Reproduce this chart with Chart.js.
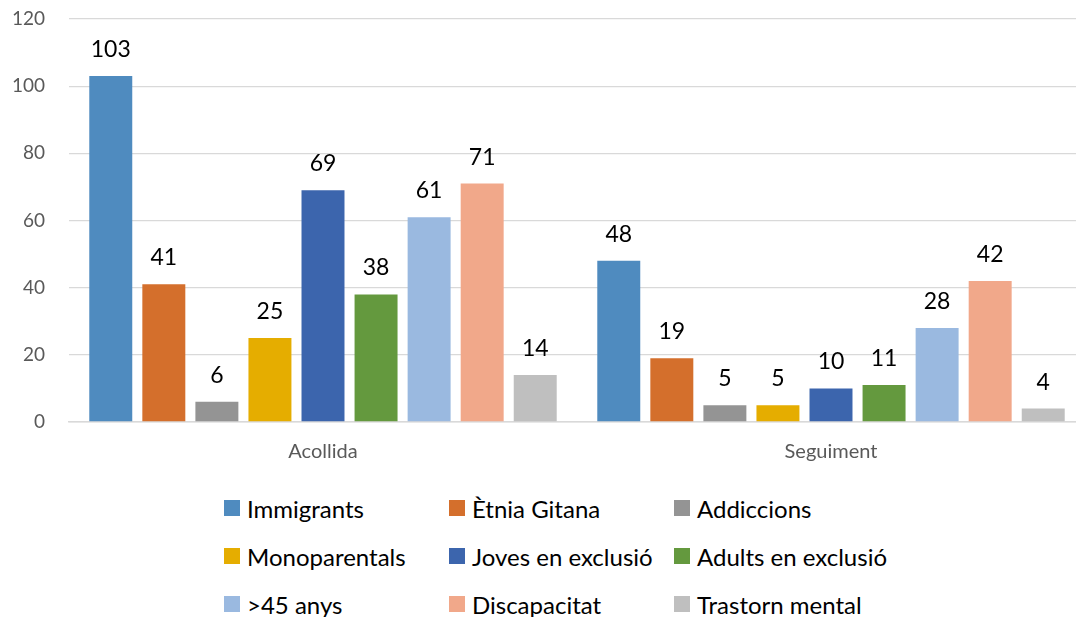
<!DOCTYPE html>
<html><head><meta charset="utf-8">
<script src="https://cdn.jsdelivr.net/npm/chart.js@4"></script>
<style>
html,body{margin:0;padding:0;background:#fff;overflow:hidden;width:1076px;height:617px}
#wrap{position:relative;width:1076px;height:617px;overflow:hidden;background:#fff}
canvas{position:absolute;left:0;top:0}
.li{position:absolute;height:48px;display:flex;align-items:center;font-family:Lato,"Open Sans",sans-serif;font-size:24px;color:#000;white-space:nowrap}
.sw{width:16px;height:16px;margin-right:7px;flex:0 0 auto}
</style></head>
<body><div id="wrap"><canvas id="c" width="1086" height="480"></canvas><div id="legend"></div></div>
<script>
const categories = ['Acollida', 'Seguiment'];
const seriesNames = ['Immigrants', 'Ètnia Gitana', 'Addiccions', 'Monoparentals', 'Joves en exclusió', 'Adults en exclusió', '>45 anys', 'Discapacitat', 'Trastorn mental'];
const seriesColors = ['#4f8bbf', '#d46f2c', '#949494', '#e5ad00', '#3c65ad', '#64993e', '#9ab9e0', '#f1a88a', '#bfbfbf'];
const acollidaValues = [103, 41, 6, 25, 69, 38, 61, 71, 14];
const seguimentValues = [48, 19, 5, 5, 10, 11, 28, 42, 4];
const yTicks = [0, 20, 40, 60, 80, 100, 120];

const datasets = seriesNames.map((name, i) => ({
  label: name,
  data: [acollidaValues[i], seguimentValues[i]],
  backgroundColor: seriesColors[i],
  borderWidth: 0,
  categoryPercentage: 0.94,
  barPercentage: 0.81
}));

const valueLabels = {
  id: 'valueLabels',
  afterDatasetsDraw(chart) {
    const ctx = chart.ctx;
    ctx.save();
    ctx.font = '23px Lato, "Open Sans", sans-serif';
    ctx.fillStyle = '#000';
    ctx.textAlign = 'center';
    ctx.textBaseline = 'alphabetic';
    chart.data.datasets.forEach((ds, i) => {
      chart.getDatasetMeta(i).data.forEach((bar, j) => {
        ctx.fillText(String(ds.data[j]), bar.x, bar.y - 19);
      });
    });
    ctx.restore();
  }
};

new Chart(document.getElementById('c'), {
  type: 'bar',
  data: { labels: categories, datasets },
  plugins: [valueLabels],
  options: {
    responsive: false,
    animation: false,
    devicePixelRatio: 1,
    layout: { autoPadding: false, padding: { top: 19, right: 1, left: 0, bottom: 0 } },
    plugins: { legend: { display: false }, tooltip: { enabled: false } },
    scales: {
      x: {
        grid: { display: false, drawTicks: false },
        border: { display: true, color: '#d9d9d9', width: 1.5 },
        ticks: { color: '#595959', font: { family: 'Lato', size: 20 }, padding: 18 },
        afterFit(scale) { scale.height = 58; scale.paddingLeft = 0; scale.paddingRight = 0; }
      },
      y: {
        min: 0, max: 120,
        afterBuildTicks(scale) { scale.ticks = yTicks.map(v => ({ value: v })); },
        grid: { color: '#d9d9d9', lineWidth: 1.3, drawTicks: false },
        border: { display: false },
        ticks: { color: '#595959', font: { family: 'Lato', size: 19 }, padding: 24 },
        afterFit(scale) { scale.width = 69; scale.paddingTop = 0; scale.paddingBottom = 0; }
      }
    }
  }
});

const legend = document.getElementById('legend');
seriesNames.forEach((name, i) => {
  const col = i % 3, row = Math.floor(i / 3);
  const item = document.createElement('div');
  item.className = 'li';
  item.style.left = (224 + col * 225) + 'px';
  item.style.top = (484 + row * 48) + 'px';
  const sw = document.createElement('span');
  sw.className = 'sw';
  sw.style.background = seriesColors[i];
  const tx = document.createElement('span');
  tx.textContent = name;
  item.appendChild(sw); item.appendChild(tx);
  legend.appendChild(item);
});
</script>
</body></html>
